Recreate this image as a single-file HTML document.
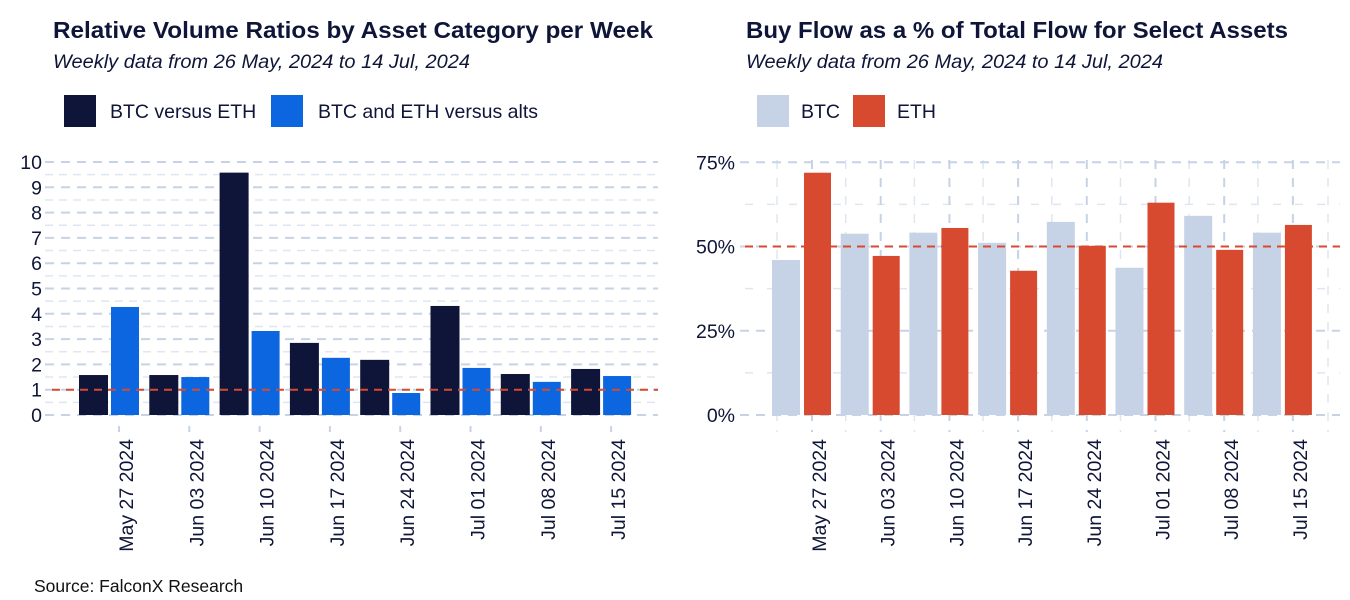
<!DOCTYPE html>
<html><head><meta charset="utf-8"><style>
body{margin:0;background:#fff;}
svg{display:block;font-family:"Liberation Sans",sans-serif;}
</style></head><body>
<svg width="1350" height="600" viewBox="0 0 1350 600">
<text x="53" y="38" font-size="23.5" font-weight="bold" fill="#0e1538" textLength="600" lengthAdjust="spacingAndGlyphs">Relative Volume Ratios by Asset Category per Week</text>
<text x="53" y="68" font-size="19" font-style="italic" fill="#0e1538" textLength="417" lengthAdjust="spacingAndGlyphs">Weekly data from 26 May, 2024 to 14 Jul, 2024</text>
<rect x="64" y="95" width="32" height="32" fill="#0e1538"/>
<text x="110" y="118" font-size="19.5" fill="#0e1538">BTC versus ETH</text>
<rect x="271" y="95" width="32" height="32" fill="#0b66e0"/>
<text x="318" y="118" font-size="19.5" fill="#0e1538">BTC and ETH versus alts</text>

<text x="746" y="38" font-size="23.5" font-weight="bold" fill="#0e1538" textLength="542" lengthAdjust="spacingAndGlyphs">Buy Flow as a % of Total Flow for Select Assets</text>
<text x="746" y="68" font-size="19" font-style="italic" fill="#0e1538" textLength="417" lengthAdjust="spacingAndGlyphs">Weekly data from 26 May, 2024 to 14 Jul, 2024</text>
<rect x="757" y="95" width="32" height="32" fill="#c6d3e6"/>
<text x="801" y="118" font-size="19.5" fill="#0e1538">BTC</text>
<rect x="853" y="95" width="32" height="32" fill="#d84a30"/>
<text x="897" y="118" font-size="19.5" fill="#0e1538">ETH</text>

<text x="34" y="592" font-size="17.5" fill="#111">Source: FalconX Research</text>
<g id="left"></g><g id="right"></g>
</svg>
<script>
const categories=["May 27 2024","Jun 03 2024","Jun 10 2024","Jun 17 2024","Jun 24 2024","Jul 01 2024","Jul 08 2024","Jul 15 2024"];
const btcVsEth=[1.58,1.58,9.58,2.85,2.18,4.31,1.62,1.82];
const btcEthVsAlts=[4.27,1.5,3.32,2.26,0.87,1.86,1.31,1.54];
const leftTicks=[0,1,2,3,4,5,6,7,8,9,10];
const btcBuy=[46,53.8,54.1,51.1,57.3,43.7,59.1,54.1];
const ethBuy=[71.9,47.2,55.5,42.8,50.2,63,49,56.4];
const rightTicks=[0,25,50,75];
const NS="http://www.w3.org/2000/svg";
function mk(p,t,a){const e=document.createElementNS(NS,t);for(const k in a)e.setAttribute(k,a[k]);p.appendChild(e);return e;}
// Left chart
const L=document.getElementById('left');
const ly=v=>415-v*25.3;
const lx=i=>79+i*70.3;
for(let v=0.5;v<10;v+=1){const g=mk(L,'line',{x1:45,x2:658,y1:ly(v),y2:ly(v),stroke:'#dfe6f2','stroke-width':1.5,'stroke-dasharray':'8 6'});

}
leftTicks.forEach(v=>{const g=mk(L,'line',{x1:45,x2:658,y1:ly(v),y2:ly(v),stroke:'#c6d3e6','stroke-width':2,'stroke-dasharray':'9 7'});


const t=mk(L,'text',{x:42,y:ly(v)+7,'text-anchor':'end','font-size':19.5,fill:'#0e1538'});t.textContent=v;

});
categories.forEach((c,i)=>{
const b1=mk(L,'rect',{x:lx(i),y:ly(btcVsEth[i]),width:29,height:ly(0)-ly(btcVsEth[i]),fill:'#0e1538'});


const b2=mk(L,'rect',{x:lx(i)+32,y:ly(btcEthVsAlts[i]),width:28,height:ly(0)-ly(btcEthVsAlts[i]),fill:'#0b66e0'});


const tk=mk(L,'line',{x1:lx(i)+40,x2:lx(i)+40,y1:426,y2:432,stroke:'#c6d3e6','stroke-width':2});


const t=mk(L,'text',{transform:`translate(${lx(i)+54},439) rotate(-90)`,'text-anchor':'end','font-size':19.5,fill:'#0e1538'});t.textContent=c;

});
const r1=mk(L,'line',{x1:52,x2:658,y1:ly(1),y2:ly(1),stroke:'#d84a30','stroke-width':2,'stroke-dasharray':'8 6'});


// Right chart
const R=document.getElementById('right');
const ry=v=>415-v*3.37;
const rx=i=>772+i*68.7;
for(let v=12.5;v<80;v+=25){const g=mk(R,'line',{x1:745,x2:1340,y1:ry(v),y2:ry(v),stroke:'#dfe6f2','stroke-width':1.5,'stroke-dasharray':'8 14'});

}
for(let i=0;i<=8;i++){[5,40].forEach(o=>{if(i==8&&o==40)return;const x=i==8?1328:rx(i)+o;const g=mk(R,'line',{x1:x,x2:x,y1:160,y2:432,stroke:o==40?'#c6d3e6':'#dfe6f2','stroke-width':o==40?2:1.5,'stroke-dasharray':'9 9'});

});}
rightTicks.forEach(v=>{const g=mk(R,'line',{x1:740,x2:1340,y1:ry(v),y2:ry(v),stroke:'#c6d3e6','stroke-width':2,'stroke-dasharray':'9 7'});


const t=mk(R,'text',{x:735,y:ry(v)+7,'text-anchor':'end','font-size':19.5,fill:'#0e1538'});t.textContent=v+'%';

});
categories.forEach((c,i)=>{
const b1=mk(R,'rect',{x:rx(i),y:ry(btcBuy[i]),width:28,height:ry(0)-ry(btcBuy[i]),fill:'#c6d3e6'});


const b2=mk(R,'rect',{x:rx(i)+32,y:ry(ethBuy[i]),width:27,height:ry(0)-ry(ethBuy[i]),fill:'#d84a30'});


const t=mk(R,'text',{transform:`translate(${rx(i)+54},439) rotate(-90)`,'text-anchor':'end','font-size':19.5,fill:'#0e1538'});t.textContent=c;

});
const r2=mk(R,'line',{x1:745,x2:1340,y1:ry(50),y2:ry(50),stroke:'#d84a30','stroke-width':2,'stroke-dasharray':'8 6'});


</script>
</body></html>
